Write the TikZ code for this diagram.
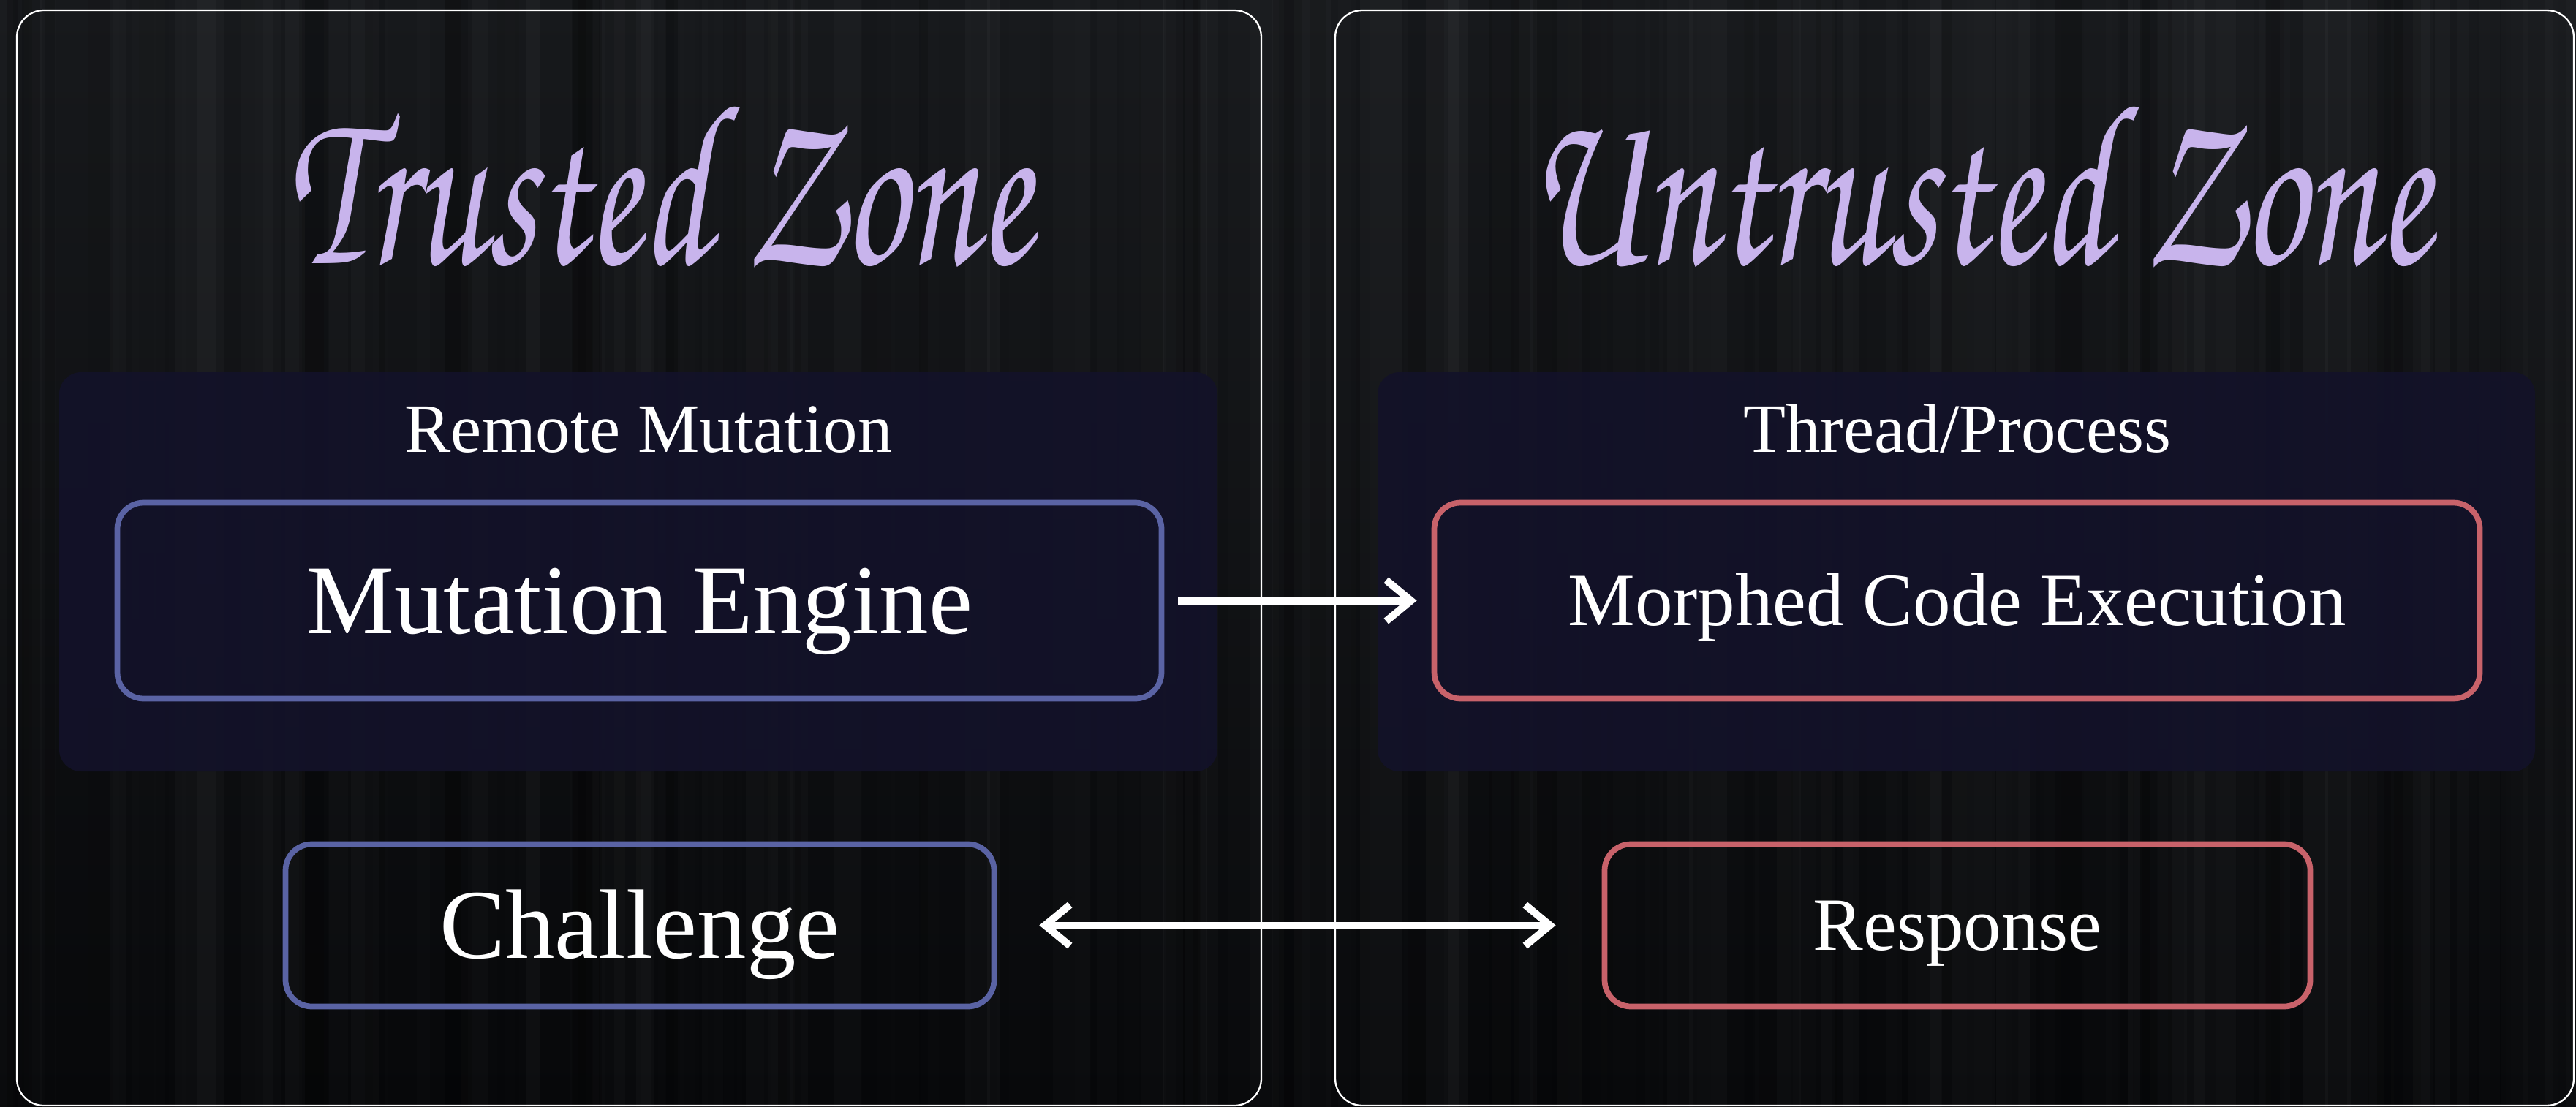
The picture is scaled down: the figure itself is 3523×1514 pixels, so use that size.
\documentclass[tikz,border=0pt]{standalone}
\usepackage[T1]{fontenc}
\usepackage{fontspec}
\setmainfont{Liberation Serif}
\usetikzlibrary{arrows.meta}
\newcommand\scriptfnt{\fontencoding{T1}\fontfamily{pzc}\fontseries{mb}\fontshape{it}\selectfont}
\definecolor{bgtop}{HTML}{17191C}
\definecolor{bgbot}{HTML}{07080A}
\definecolor{lav}{HTML}{C8B4EC}
\definecolor{navy}{HTML}{131229}
\definecolor{bluebd}{HTML}{5A63A4}
\definecolor{redbd}{HTML}{C8626A}
\tikzset{
  zone/.style={draw=white, line width=0.65pt, rounded corners=3.7mm, inner sep=0pt, outer sep=0pt},
  group/.style={fill=navy, fill opacity=0.92, rounded corners=3mm, inner sep=0pt, outer sep=0pt},
  box/.style={draw, line width=2.2pt, rounded corners=3.6mm, inner sep=0pt, text=white, align=center, text depth=0pt},
  bigtxt/.style={font=\fontsize{38.4pt}{46pt}\selectfont, text height=8.9mm},
  midtxt/.style={font=\fontsize{29.3pt}{35pt}\selectfont, text height=6.8mm},
  grouplabel/.style={text=white, inner sep=0pt, anchor=base, font=\fontsize{27pt}{32pt}\selectfont},
  title/.style={text=lav, inner sep=0pt, anchor=base},
  arr/.style={draw=white, line width=2.85pt, -{Straight Barb[length=3.4mm, width=5.6mm]}},
  dblarr/.style={draw=white, line width=2.85pt, {Straight Barb[length=3.4mm, width=5.6mm]}-{Straight Barb[length=3.4mm, width=5.6mm]}}
}
\begin{document}
\begin{tikzpicture}[x=0.1mm, y=-0.1mm]
\useasboundingbox (0,0) rectangle (3523,1514);
\shade[top color=bgtop, bottom color=bgbot] (0,0) rectangle (3523,1514);
\pgfmathsetseed{11}
\foreach \i in {0,...,117} {
  \pgfmathsetmacro\op{rnd*0.03}
  \pgfmathsetmacro\w{15+rnd*45}
  \fill[white, opacity=\op] (\i*30,0) rectangle ++(\w,1514);
}
\foreach \i in {0,...,70} {
  \pgfmathsetmacro\op{rnd*0.18}
  \pgfmathsetmacro\w{10+rnd*40}
  \pgfmathsetmacro\xx{rnd*3500}
  \fill[black, opacity=\op] (\xx,0) rectangle ++(\w,1514);
}
% zones
\node[zone, minimum width=170.2mm, minimum height=149.8mm] (tz) at (874,763) {};
\node[zone, minimum width=169.4mm, minimum height=149.8mm] (uz) at (2673,763) {};
% titles
\node[title] (tt) at (902,360) {\resizebox{101.8mm}{22.5mm}{\scriptfnt Trusted Zone}};
\node[title] (ut) at (2707,360) {\resizebox{123.5mm}{22.5mm}{\scriptfnt Untrusted Zone}};
% groups
\node[group, minimum width=158.4mm, minimum height=54.6mm] (rmg) at (873,782) {};
\node[group, minimum width=158.3mm, minimum height=54.6mm] (tpg) at (2675.5,782) {};
\node[grouplabel] (rml) at (887,618) {Remote Mutation};
\node[grouplabel] (tpl) at (2677,618) {Thread/Process};
% boxes
\node[box, draw=bluebd, bigtxt, minimum width=142.8mm, minimum height=26.8mm] (me) at (874.5,821.5) {Mutation Engine};
\node[box, draw=redbd, midtxt, minimum width=143mm, minimum height=26.8mm] (mc) at (2676.5,821.5) {Morphed Code Execution};
\node[box, draw=bluebd, bigtxt, minimum width=96.9mm, minimum height=22.2mm] (ch) at (875,1265.5) {Challenge};
\node[box, draw=redbd, midtxt, minimum width=96.5mm, minimum height=22.2mm] (rs) at (2677,1265.5) {Response};
% connectors
\draw[arr, shorten <=1.9mm, shorten >=2mm] (me) -- (mc);
\draw[dblarr, shorten <=5.8mm, shorten >=6.3mm] (ch) -- (rs);
\end{tikzpicture}
\end{document}
